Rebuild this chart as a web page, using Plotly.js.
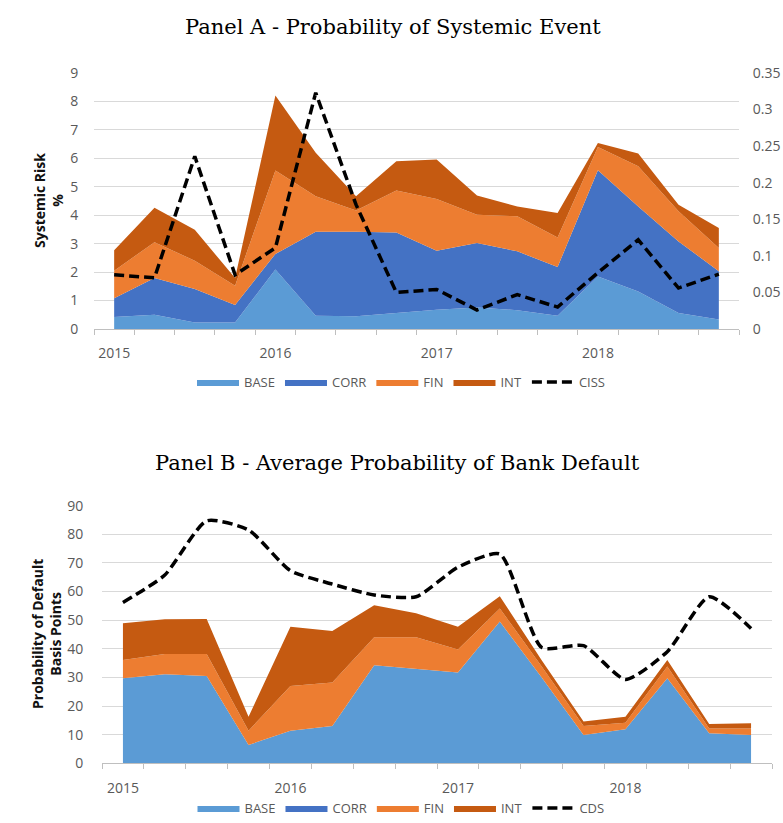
<!DOCTYPE html>
<html>
<head>
<meta charset="utf-8">
<script src="https://cdn.plot.ly/plotly-3.0.1.min.js"></script>
<style>html,body{margin:0;padding:0;background:#fff;}#chart{width:783px;height:823px;}</style>
</head>
<body>
<div id="chart"></div>
<script>
// ---- Data ----
const quarters = ['2015Q1','2015Q2','2015Q3','2015Q4','2016Q1','2016Q2','2016Q3','2016Q4',
                  '2017Q1','2017Q2','2017Q3','2017Q4','2018Q1','2018Q2','2018Q3','2018Q4'];
const yearLabels = ['2015','2016','2017','2018'];
const yearTickQuarters = ['2015Q1','2016Q1','2017Q1','2018Q1'];

// Panel A - Probability of Systemic Event (%)
const baseA = [0.42,0.50,0.23,0.23,2.09,0.47,0.45,0.56,0.68,0.76,0.66,0.47,1.85,1.32,0.56,0.33];
const corrA = [0.66,1.29,1.18,0.61,0.55,2.95,2.97,2.83,2.07,2.26,2.07,1.71,3.73,2.99,2.52,1.70];
const finA  = [0.97,1.26,0.99,0.68,2.93,1.25,0.75,1.48,1.82,1.00,1.23,1.04,0.82,1.41,1.06,0.82];
const intA  = [0.72,1.21,1.09,0.27,2.64,1.53,0.50,1.03,1.39,0.67,0.35,0.86,0.14,0.45,0.23,0.70];
const ciss  = [0.074,0.070,0.236,0.074,0.111,0.323,0.170,0.050,0.054,0.026,0.047,0.030,0.077,0.122,0.056,0.075];

// Panel B - Average Probability of Bank Default (basis points)
const baseB = [29.7,31.1,30.5,6.4,11.4,13.0,34.3,32.9,31.7,49.5,30.0,9.9,11.9,29.7,10.5,9.9];
const corrB = [0,0,0,0,0,0,0,0,0,0,0,0,0,0,0,0];
const finB  = [6.4,7.1,7.7,5.0,15.6,15.2,9.7,11.1,8.1,4.6,3.8,3.1,2.3,4.1,1.7,2.3];
const intB  = [12.8,12.1,12.2,4.9,20.7,18.0,11.2,8.4,7.9,4.3,2.2,1.6,2.1,2.3,1.5,1.8];
const cds   = [56.2,65.8,84.7,81.5,67.3,62.6,58.8,58.2,68.5,73.1,40.5,41.1,29.3,39.0,58.2,47.1];

// ---- Styling ----
const colors = {BASE:'#5B9BD5', CORR:'#4472C4', FIN:'#ED7D31', INT:'#C55A11'};
const W = 783, H = 823;
const xi = quarters.map((q,i)=>i);
const tickIdx = yearTickQuarters.map(q=>quarters.indexOf(q));
const tickFont = {family:'Open Sans, sans-serif', size:14, color:'#595959'};
const legFont = {family:'Open Sans, sans-serif', size:13, color:'#595959'};

function areaTrace(name, y, xa, ya, leg){
  return {x: xi, y: y, name: name, type:'scatter', mode:'lines', stackgroup: 'sg'+xa,
          line:{width:0, color:colors[name]}, fillcolor: colors[name], fill:'tonexty',
          xaxis: xa, yaxis: ya, legend: leg, hoverinfo:'skip'};
}

const traces = [
  areaTrace('BASE', baseA, 'x', 'y', 'legend'),
  areaTrace('CORR', corrA, 'x', 'y', 'legend'),
  areaTrace('FIN',  finA,  'x', 'y', 'legend'),
  areaTrace('INT',  intA,  'x', 'y', 'legend'),
  {x: xi, y: ciss, name:'CISS', type:'scatter', mode:'lines', xaxis:'x', yaxis:'y3', legend:'legend',
   line:{color:'#000', width:3.5, dash:'10px,5px'}},
  areaTrace('BASE', baseB, 'x2', 'y2', 'legend2'),
  areaTrace('CORR', corrB, 'x2', 'y2', 'legend2'),
  areaTrace('FIN',  finB,  'x2', 'y2', 'legend2'),
  areaTrace('INT',  intB,  'x2', 'y2', 'legend2'),
  {x: xi, y: cds, name:'CDS', type:'scatter', mode:'lines', xaxis:'x2', yaxis:'y2', legend:'legend2',
   line:{color:'#000', width:3.5, dash:'10px,5px', shape:'spline', smoothing:0.6}}
];

function xAxis(domain, anchor, standoff){
  return {domain: domain, anchor: anchor, range:[-0.5, 15.5], tickmode:'array',
          tickvals: tickIdx, ticktext: yearLabels, ticks:'outside', ticklen: standoff, tickcolor:'rgba(0,0,0,0)',
          showgrid:false, zeroline:false, showline:true, linecolor:'#bfbfbf', linewidth:1,
          tickfont: tickFont,
          minor:{tick0:-0.5, dtick:1, ticks:'outside', ticklen:5, tickcolor:'#bfbfbf', tickwidth:1, showgrid:false}};
}
function yAxis(domain, anchor, range, dtick, standoff){
  return {domain: domain, anchor: anchor, range: range, dtick: dtick, tick0:0,
          showgrid:true, gridcolor:'#d9d9d9', gridwidth:1, zeroline:false, showline:false,
          ticks:'outside', ticklen: standoff, tickcolor:'rgba(0,0,0,0)', tickfont: tickFont};
}

const layout = {
  width: W, height: H, margin:{l:0,r:0,t:0,b:0}, paper_bgcolor:'#fff', plot_bgcolor:'#fff',
  showlegend: true,
  xaxis: xAxis([94/W, 739/W], 'y', 11),
  yaxis: yAxis([1-329/H, 1-73/H], 'x', [0,9], 1, 12),
  yaxis3: Object.assign(yAxis([1-329/H, 1-73/H], 'x', [0,0.35], 0.05, 10),
          {overlaying:'y', side:'right', showgrid:false}),
  xaxis2: xAxis([102/W, 772/W], 'y2', 12),
  yaxis2: yAxis([1-763.3/H, 1-505.7/H], 'x2', [0,90], 10, 15),
  legend: {orientation:'h', x: 401/W, xanchor:'center', y: 1-382/H, yanchor:'middle', itemwidth:42,
           font: legFont, bgcolor:'rgba(0,0,0,0)', traceorder:'normal'},
  legend2: {orientation:'h', x: 401/W, xanchor:'center', y: 0, yanchor:'bottom', itemwidth:42,
           font: legFont, bgcolor:'rgba(0,0,0,0)', traceorder:'normal'},
  annotations: [
    {text:'Panel A - Probability of Systemic Event', xref:'paper', yref:'paper', x: 393/W, y: 1-27/H,
     xanchor:'center', yanchor:'middle', showarrow:false,
     font:{family:'DejaVu Serif, serif', size:21, color:'#000'}},
    {text:'Panel B - Average Probability of Bank Default', xref:'paper', yref:'paper', x: 397/W, y: 1-463/H,
     xanchor:'center', yanchor:'middle', showarrow:false,
     font:{family:'DejaVu Serif, serif', size:21, color:'#000'}},
    {text:'<b>Systemic Risk</b><br><b>%</b>', xref:'paper', yref:'paper', x: 48/W, y: 1-201/H,
     xanchor:'center', yanchor:'middle', showarrow:false, textangle:-90,
     font:{family:'Open Sans, sans-serif', size:14, color:'#111'}},
    {text:'<b>Probability of Default</b><br><b>Basis Points</b>', xref:'paper', yref:'paper', x: 46/W, y: 1-634/H,
     xanchor:'center', yanchor:'middle', showarrow:false, textangle:-90,
     font:{family:'Open Sans, sans-serif', size:14, color:'#111'}}
  ]
};

Plotly.newPlot('chart', traces, layout, {displayModeBar:false, staticPlot:true});
</script>
</body>
</html>
